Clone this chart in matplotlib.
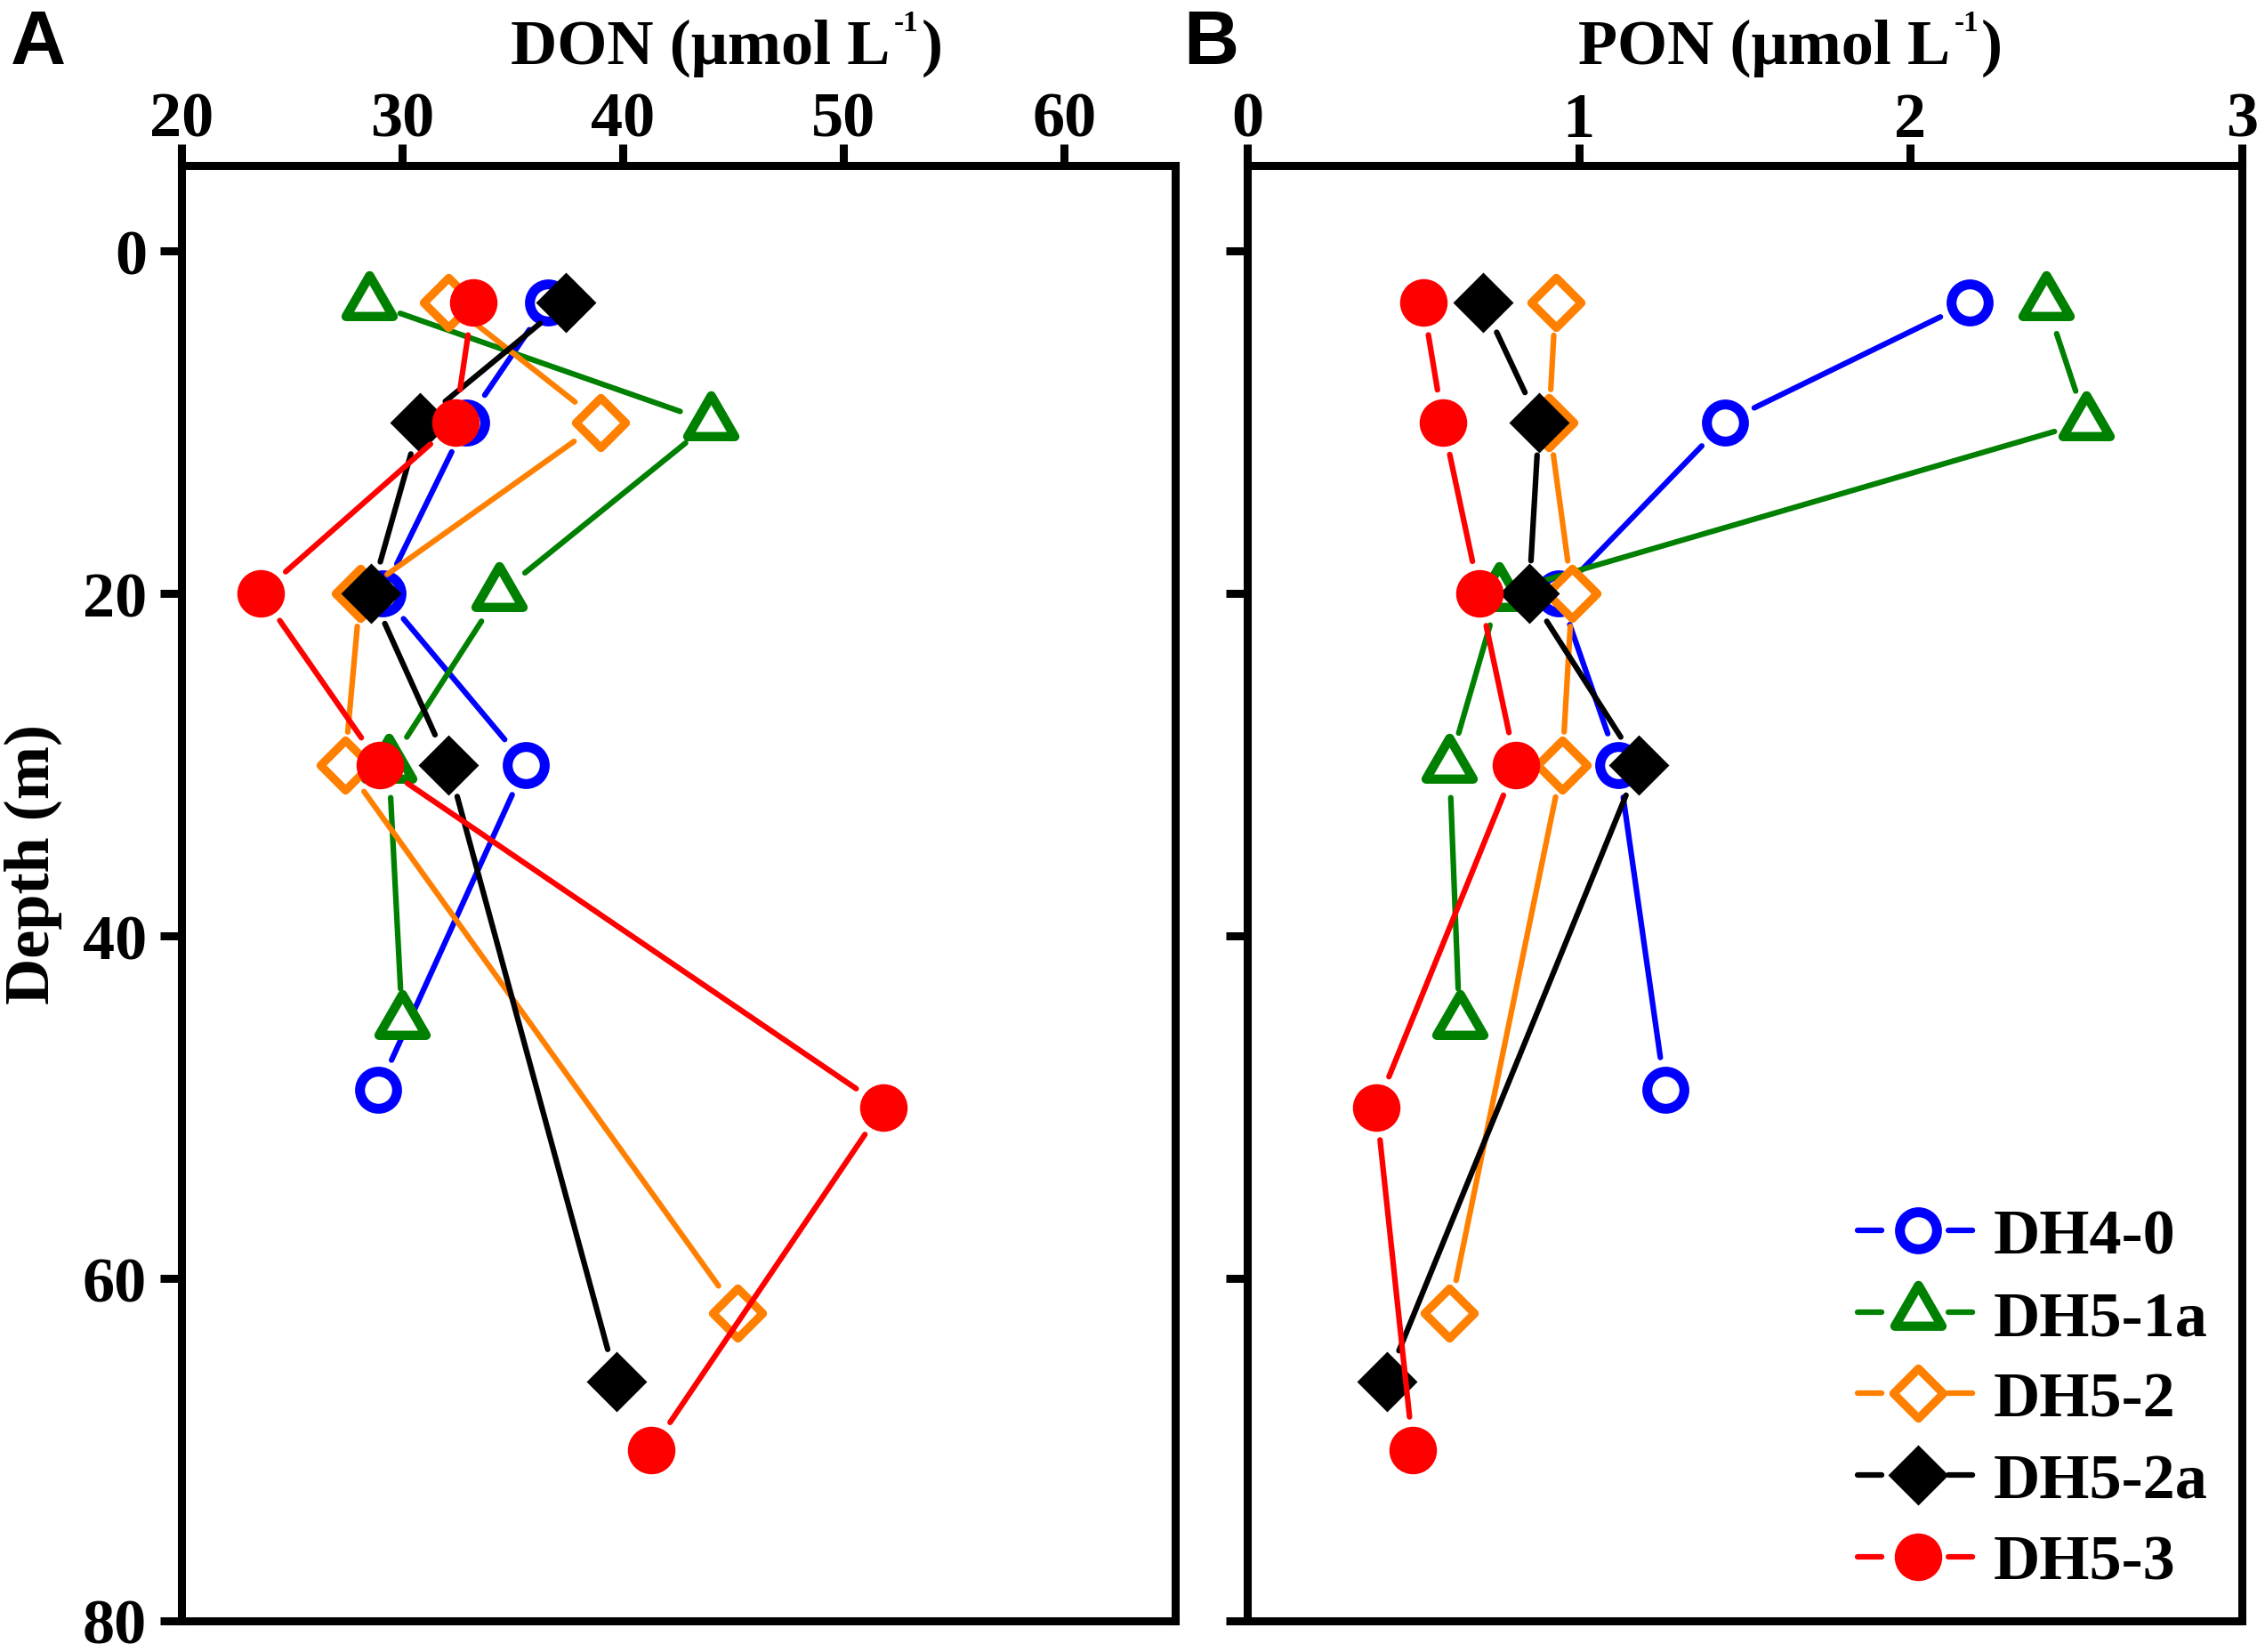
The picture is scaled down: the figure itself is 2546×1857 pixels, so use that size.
import numpy as np
import matplotlib
matplotlib.use('Agg')
import matplotlib.pyplot as plt
from matplotlib.lines import Line2D
from matplotlib.markers import MarkerStyle
from matplotlib.path import Path
from matplotlib.transforms import IdentityTransform

# ── Data ──────────────────────────────────────────────────────────
stations = ['DH4-0', 'DH5-1a', 'DH5-2', 'DH5-2a', 'DH5-3']

depth_dh40  = [3, 10, 20, 30, 49]
depth_dh51a = [3, 10, 20, 30, 45]
depth_dh52  = [3, 10, 20, 30, 62]
depth_dh52a = [3, 10, 20, 30, 66]
depth_dh53  = [3, 10, 20, 30, 50, 70]

don_dh40  = [36.6, 32.9, 29.1, 35.6, 28.9]
don_dh51a = [28.5, 44.0, 34.4, 29.4, 30.0]
don_dh52  = [32.1, 39.0, 28.1, 27.4, 45.2]
don_dh52a = [37.4, 30.8, 28.6, 32.1, 39.7]
don_dh53  = [33.2, 32.4, 23.6, 29.0, 51.8, 41.3]

pon_dh40  = [2.18, 1.44, 0.94, 1.12, 1.26]
pon_dh51a = [2.41, 2.53, 0.76, 0.61, 0.64]
pon_dh52  = [0.93, 0.91, 0.98, 0.95, 0.61]
pon_dh52a = [0.71, 0.88, 0.85, 1.18, 0.42]
pon_dh53  = [0.53, 0.59, 0.70, 0.81, 0.39, 0.50]

depths = [depth_dh40, depth_dh51a, depth_dh52, depth_dh52a, depth_dh53]
don    = [don_dh40, don_dh51a, don_dh52, don_dh52a, don_dh53]
pon    = [pon_dh40, pon_dh51a, pon_dh52, pon_dh52a, pon_dh53]

depth_ticks = [0, 20, 40, 60, 80]
don_ticks   = [20, 30, 40, 50, 60]
pon_ticks   = [0, 1, 2, 3]

# ── Styling ───────────────────────────────────────────────────────
plt.rcParams.update({
    'font.family': 'Liberation Serif',
    'font.weight': 'bold',
    'lines.scale_dashes': False,
})

W, H, DPI = 2546, 1858, 100
FS  = 52      # main text size (pt)
LW  = 4.5     # data line width
GAP = 37      # px gap left between line ends and marker centres
SPW = 6.5     # spine / tick width

# triangle centred on its centroid (Origin style)
tri = Path([(0, 1), (-0.866, -0.5), (0.866, -0.5), (0, 1)],
           [Path.MOVETO, Path.LINETO, Path.LINETO, Path.CLOSEPOLY])

styles = [
    dict(color='#0000FF', marker=MarkerStyle('o'), ms=30, mew=8.0, mfc='white'),
    dict(color='#008000', marker=MarkerStyle(tri, joinstyle='round'), ms=44, mew=7.5, mfc='white'),
    dict(color='#FF8000', marker=MarkerStyle('D', joinstyle='round'), ms=29, mew=6.8, mfc='white'),
    dict(color='#000000', marker=MarkerStyle('D'), ms=33, mew=2.0, mfc='#000000'),
    dict(color='#FF0000', marker=MarkerStyle('o'), ms=37, mew=1.5, mfc='#FF0000'),
]

fig = plt.figure(figsize=(W / DPI, H / DPI), dpi=DPI)
top_px, bot_px = 187, 1823
ax_a = fig.add_axes([204 / W, 1 - bot_px / H, (1320.5 - 204) / W, (bot_px - top_px) / H])
ax_b = fig.add_axes([1402 / W, 1 - bot_px / H, (2520 - 1402) / W, (bot_px - top_px) / H])


def style_axes(ax, xlim, xticks, ylabels):
    ax.set_xlim(*xlim)
    ax.set_ylim(80, -5)
    ax.set_xticks(xticks)
    ax.set_yticks(depth_ticks)
    ax.xaxis.tick_top()
    ax.tick_params(axis='both', direction='out', length=17, width=SPW,
                   labelsize=FS)
    ax.tick_params(axis='x', pad=-4)
    ax.tick_params(axis='y', pad=11, labelleft=ylabels)
    for s in ax.spines.values():
        s.set_linewidth(SPW)


style_axes(ax_a, (20, 65), don_ticks, True)
style_axes(ax_b, (0, 3), pon_ticks, False)


def gapped_profile(ax, x, y, st, z):
    """Line segments stopped short of each marker, then the markers."""
    pts = ax.transData.transform(np.column_stack([x, y]))
    inv = ax.transData.inverted()
    for p0, p1 in zip(pts[:-1], pts[1:]):
        d = p1 - p0
        L = np.hypot(*d)
        if L <= 2 * GAP:
            continue
        u = d / L
        a = inv.transform(p0 + u * GAP)
        b = inv.transform(p1 - u * GAP)
        ax.plot([a[0], b[0]], [a[1], b[1]], color=st['color'], lw=LW,
                solid_capstyle='round', zorder=z)
    ax.plot(x, y, ls='none', marker=st['marker'], ms=st['ms'], mew=st['mew'],
            mec=st['color'], mfc=st['mfc'], zorder=z + 0.5, clip_on=False)


for i, st in enumerate(styles):
    gapped_profile(ax_a, don[i], depths[i], st, 3 + i)
    gapped_profile(ax_b, pon[i], depths[i], st, 3 + i)

# ── Legend (line broken around marker) ────────────────────────────
handles = []
for st in styles:
    seg = Line2D([], [], color=st['color'], lw=LW, solid_capstyle='round',
                 dash_capstyle='round', ls=(0, (19.5, 54, 19.5, 54)))
    mk = Line2D([], [], ls='none', marker=st['marker'], ms=st['ms'],
                mew=st['mew'], mec=st['color'], mfc=st['mfc'])
    handles.append((seg, mk))

ax_b.legend(handles, stations, loc='upper left',
            bbox_to_anchor=(2088 / W, 1 - 1359 / H), bbox_transform=fig.transFigure,
            frameon=False, borderpad=0, borderaxespad=0,
            handlelength=1.87, handletextpad=0.24, labelspacing=0.36,
            prop={'family': 'Liberation Serif', 'weight': 'bold', 'size': FS})

# ── Axis titles with superscript ─────────────────────────────────
renderer = fig.canvas.get_renderer()
pix = IdentityTransform()


def unit_label(x_px, base_top_px, name):
    yb = H - base_top_px
    t = fig.text(x_px, yb, f'{name} (μmol L', transform=pix, fontsize=FS,
                 ha='left', va='baseline')
    bb = t.get_window_extent(renderer)
    s = fig.text(bb.x1 + 4, yb + 37, '-1', transform=pix, fontsize=24,
                 ha='left', va='baseline')
    bb2 = s.get_window_extent(renderer)
    fig.text(bb2.x1 + 3, yb, ')', transform=pix, fontsize=FS,
             ha='left', va='baseline')


unit_label(574, 72, 'DON')
unit_label(1774, 72, 'PON')

fig.text(55, H - 972, 'Depth (m)', transform=pix, fontsize=FS, rotation=90,
         rotation_mode='anchor', ha='center', va='baseline')

fig.text(12, H - 72, 'A', transform=pix, family='Liberation Sans',
         weight='bold', fontsize=62, va='baseline')
fig.text(1330, H - 72, 'B', transform=pix, family='Liberation Sans',
         weight='bold', fontsize=62, va='baseline')

fig.savefig('out.png', dpi=DPI, facecolor='white')
